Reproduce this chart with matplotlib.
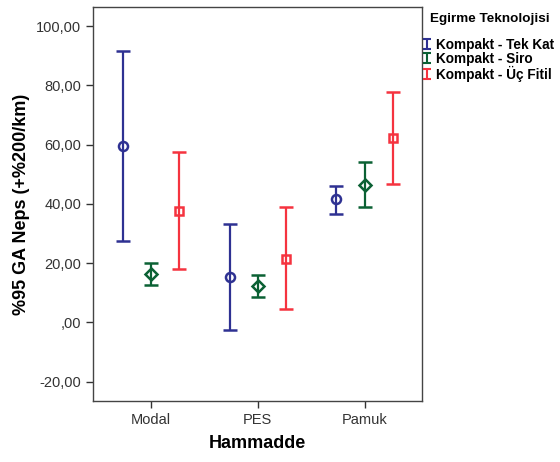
import matplotlib
matplotlib.use("Agg")
import matplotlib.pyplot as plt
import numpy as np
from matplotlib.lines import Line2D
from matplotlib.path import Path
from matplotlib.ticker import FuncFormatter

plt.rcParams['font.family'] = ['Liberation Sans', 'DejaVu Sans']

categories = ['Modal', 'PES', 'Pamuk']
series = ['Kompakt - Tek Kat', 'Kompakt - Siro', 'Kompakt - Üç Fitil']

# means and 95% CI bounds
means = [[59.5, 15.3, 41.6],
         [16.4, 12.3, 46.4],
         [37.7, 21.5, 62.3]]
upper = [[91.6, 33.1, 46.0],
         [20.2, 16.0, 54.0],
         [57.4, 38.9, 77.7]]
lower = [[27.4, -2.5, 36.7],
         [12.6, 8.7, 39.0],
         [18.2, 4.5, 46.6]]

colors = ['#2E3192', '#0B6134', '#F5333F']
markers = ['o', 'D', 's']
msizes = [6.5, 6, 6]
offsets = [-0.262, 0, 0.262]

fig = plt.figure(figsize=(5.6, 4.62), dpi=100)
ax = fig.add_axes([0.166, 0.132, 0.588, 0.853])

x = np.arange(len(categories))
for i in range(3):
    m = np.array(means[i])
    yerr = [m - np.array(lower[i]), np.array(upper[i]) - m]
    ax.errorbar(x + offsets[i], m, yerr=yerr, fmt=markers[i], color=colors[i],
                mfc='none', mec=colors[i], ms=msizes[i], mew=1.8,
                elinewidth=1.6, capsize=5, capthick=1.6)

ax.set_xlim(-0.54, 2.54)
ax.set_ylim(-26.5, 106.5)
ax.set_xticks(x)
ax.set_xticklabels(categories)
ax.set_yticks(np.arange(-20, 101, 20))


def fmt(v, pos):
    s = f"{v:.2f}".replace('.', ',')
    if s.startswith('0,'):
        s = s[1:]
    elif s.startswith('-0,'):
        s = '-' + s[2:]
    return s


ax.yaxis.set_major_formatter(FuncFormatter(fmt))
ax.tick_params(direction='out', length=5, width=1, color='#333333',
               labelsize=10.5, labelcolor='#333333')
for sp in ax.spines.values():
    sp.set_color('#444444')
    sp.set_linewidth(1)

ax.set_xlabel('Hammadde', fontsize=13, fontweight='bold', labelpad=6)
ax.set_ylabel('%95 GA Neps (+%200/km)', fontsize=13, fontweight='bold', labelpad=4)

# legend: title placed on its own, entries below it
fig.text(0.875, 1 - 19 / 462, 'Egirme Teknolojisi', ha='center', va='center',
         fontsize=9.7, fontweight='bold')
ibeam = Path([(-0.7, -1), (0.7, -1), (0, -1), (0, 1), (-0.7, 1), (0.7, 1)],
             [Path.MOVETO, Path.LINETO, Path.MOVETO, Path.LINETO, Path.MOVETO, Path.LINETO])
handles = [Line2D([], [], linestyle='none', marker=ibeam, ms=7.5, mew=1.5,
                  color=c, mfc='none') for c in colors]
leg = fig.legend(handles, series, loc='upper left', bbox_to_anchor=(0.755, 1 - 38 / 462),
                 frameon=False, handlelength=0.6,
                 handletextpad=0.35, labelspacing=0.0, borderaxespad=0, borderpad=0,
                 prop={'weight': 'bold', 'size': 9.8})

fig.savefig('out.png', dpi=100)
